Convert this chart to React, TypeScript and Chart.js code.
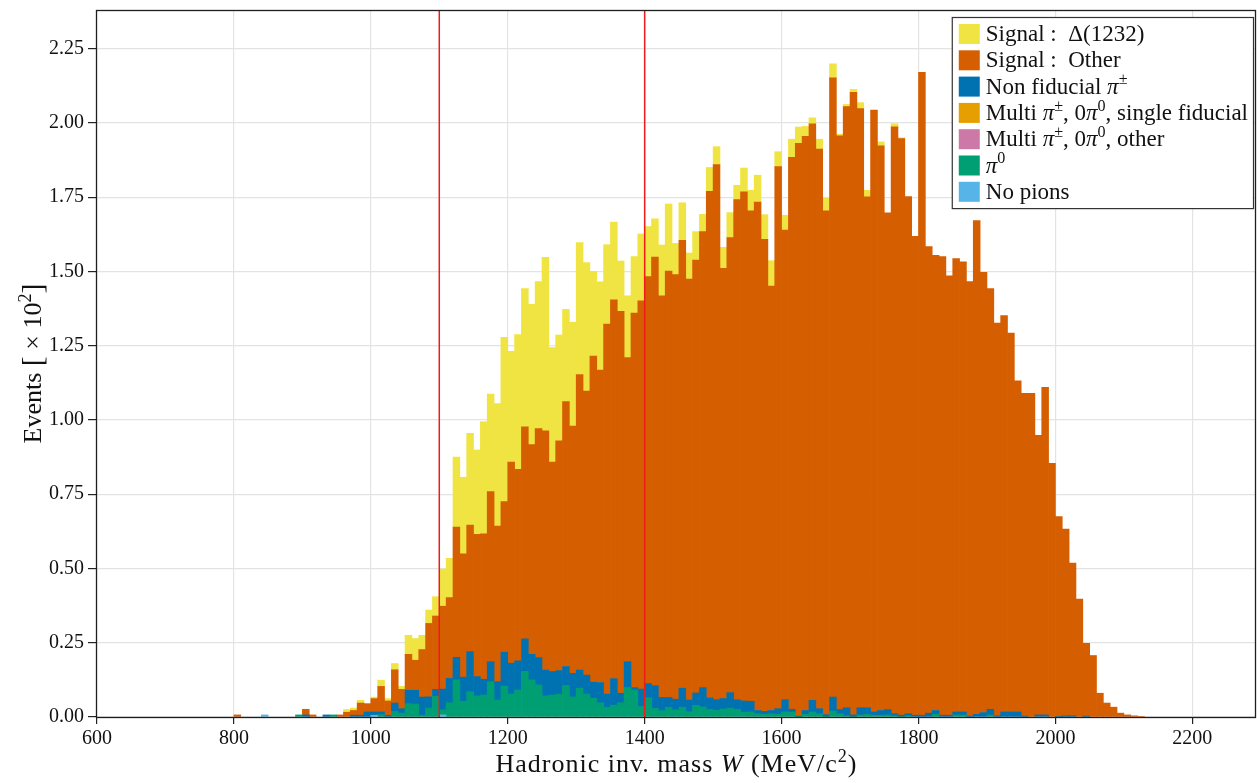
import { useEffect, useRef } from "react";
import { Chart, registerables } from "chart.js";

Chart.register(...registerables);

// Histogram binning in MeV: lower edge of the first filled bin and bin width
const FIRST_BIN = 800;
const BIN_WIDTH = 10;

// Events per 10 MeV bin, in units of 10^2; one row per 100 MeV starting at 800 MeV
const noPions = [
  0, 0, 0, 0, 0.007, 0, 0, 0, 0, 0,
  0, 0, 0, 0, 0, 0, 0, 0, 0, 0,
  0.006, 0, 0, 0, 0, 0, 0, 0, 0, 0,
  0.007, 0, 0, 0, 0, 0, 0, 0, 0, 0,
  0, 0, 0, 0, 0, 0, 0, 0, 0, 0,
  0, 0, 0, 0, 0, 0, 0, 0, 0, 0,
  0, 0, 0, 0, 0, 0, 0, 0, 0, 0,
  0, 0, 0, 0, 0, 0, 0, 0, 0, 0,
  0, 0, 0, 0, 0, 0, 0, 0, 0, 0,
  0, 0, 0, 0, 0, 0, 0, 0, 0, 0,
  0, 0, 0, 0, 0, 0, 0, 0, 0, 0,
  0, 0, 0, 0, 0, 0, 0, 0, 0, 0,
  0, 0, 0, 0, 0, 0, 0, 0, 0, 0,
  0, 0, 0,
];

const pi0 = [
  0, 0, 0, 0, 0, 0, 0, 0, 0, 0.007,
  0, 0, 0, 0, 0.007, 0, 0, 0, 0, 0,
  0, 0.008, 0, 0.019, 0.013, 0.045, 0.043, 0.006, 0.03, 0.07,
  0.017, 0.048, 0.125, 0.052, 0.085, 0.071, 0.074, 0.119, 0.057, 0.104,
  0.077, 0.091, 0.153, 0.125, 0.108, 0.071, 0.074, 0.077, 0.106, 0.068,
  0.097, 0.077, 0.063, 0.048, 0.033, 0.04, 0.048, 0.099, 0.091, 0.035,
  0.065, 0.029, 0.021, 0.033, 0.024, 0.033, 0.018, 0.039, 0.034, 0.025,
  0.022, 0.027, 0.03, 0.025, 0.016, 0.017, 0.011, 0.009, 0.011, 0.009,
  0.017, 0.016, 0.001, 0.009, 0.017, 0.011, 0.002, 0.02, 0.011, 0.004,
  0.002, 0.007, 0.009, 0.006, 0.006, 0.007, 0.004, 0.002, 0.004, 0,
  0, 0, 0.009, 0, 0, 0.007, 0.007, 0, 0, 0,
  0.007, 0, 0, 0, 0, 0, 0, 0, 0, 0,
  0, 0, 0, 0, 0, 0, 0, 0, 0, 0,
  0, 0, 0,
];

const multiOther: number[] = [];
const multiSingleFiducial: number[] = [];

const nonFiducial = [
  0, 0, 0, 0, 0, 0, 0, 0, 0, 0,
  0.007, 0, 0, 0.007, 0, 0, 0, 0.006, 0.006, 0.017,
  0.011, 0.009, 0.006, 0.028, 0.015, 0.045, 0.047, 0.061, 0.038, 0.023,
  0.07, 0.082, 0.076, 0.082, 0.135, 0.065, 0.053, 0.067, 0.062, 0.114,
  0.104, 0.098, 0.11, 0.086, 0.092, 0.087, 0.079, 0.079, 0.064, 0.079,
  0.061, 0.064, 0.054, 0.068, 0.044, 0.089, 0.032, 0.087, 0.008, 0.059,
  0.048, 0.077, 0.045, 0.033, 0.036, 0.064, 0.039, 0.042, 0.065, 0.039,
  0.036, 0.035, 0.052, 0.033, 0.038, 0.036, 0.011, 0.01, 0.011, 0.019,
  0.041, 0.01, 0.002, 0.013, 0.039, 0.017, 0.006, 0.047, 0.014, 0.027,
  0.005, 0.024, 0.022, 0.011, 0.016, 0.018, 0.007, 0.004, 0.007, 0.006,
  0.006, 0.013, 0.013, 0.006, 0.006, 0.01, 0.01, 0.003, 0.009, 0.015,
  0.019, 0.004, 0.017, 0.017, 0.017, 0.003, 0, 0.007, 0.007, 0,
  0.002, 0.004, 0.004, 0, 0.003, 0, 0, 0, 0, 0,
  0, 0, 0,
];

const signalOther = [
  0.007, 0, 0, 0, 0, 0, 0, 0, 0, 0,
  0.019, 0.007, 0, 0, 0, 0.007, 0.016, 0.016, 0.041, 0.028,
  0.045, 0.086, 0.048, 0.112, 0.065, 0.121, 0.101, 0.16, 0.247, 0.247,
  0.279, 0.272, 0.438, 0.415, 0.426, 0.479, 0.49, 0.573, 0.524, 0.507,
  0.677, 0.645, 0.714, 0.706, 0.771, 0.805, 0.705, 0.774, 0.892, 0.832,
  0.995, 0.956, 1.098, 1.052, 1.246, 1.275, 1.286, 1.024, 1.261, 1.307,
  1.37, 1.442, 1.352, 1.435, 1.429, 1.508, 1.417, 1.457, 1.535, 1.706,
  1.802, 1.448, 1.532, 1.684, 1.714, 1.651, 1.711, 1.589, 1.429, 1.825,
  1.581, 1.858, 1.928, 1.933, 1.941, 1.884, 1.696, 2.085, 1.931, 2.024,
  2.096, 2.017, 1.72, 2.026, 1.901, 1.672, 1.976, 1.941, 1.741, 1.612,
  2.164, 1.571, 1.532, 1.544, 1.479, 1.526, 1.515, 1.463, 1.662, 1.482,
  1.416, 1.322, 1.334, 1.275, 1.115, 1.087, 1.09, 0.941, 1.103, 0.854,
  0.673, 0.629, 0.514, 0.397, 0.245, 0.207, 0.08, 0.047, 0.033, 0.013,
  0.007, 0.004, 0.002,
];

const signalDelta = [
  0, 0, 0, 0, 0, 0, 0, 0, 0, 0,
  0, 0, 0, 0, 0, 0, 0.009, 0.008, 0.009, 0,
  0.005, 0.021, 0.008, 0.021, 0.01, 0.064, 0.073, 0.048, 0.045, 0.065,
  0.125, 0.132, 0.236, 0.258, 0.309, 0.284, 0.377, 0.328, 0.412, 0.553,
  0.373, 0.453, 0.465, 0.472, 0.495, 0.584, 0.386, 0.356, 0.31, 0.35,
  0.444, 0.433, 0.285, 0.297, 0.267, 0.262, 0.169, 0.208, 0.19, 0.225,
  0.168, 0.129, 0.171, 0.226, 0.105, 0.126, 0.088, 0.096, 0.058, 0.08,
  0.06, 0.071, 0.084, 0.048, 0.08, 0.069, 0.091, 0.083, 0.085, 0.05,
  0.05, 0.061, 0.055, 0.033, 0.02, 0.033, 0.043, 0.047, 0.006, 0.007,
  0.01, 0.02, 0.022, 0, 0.013, 0, 0.01, 0.003, 0, 0,
  0, 0, 0, 0, 0, 0, 0, 0, 0, 0,
  0, 0, 0, 0, 0, 0, 0, 0, 0, 0,
  0, 0, 0, 0, 0, 0, 0, 0, 0, 0,
  0, 0, 0,
];

// Selection window edges on W (MeV)
const cutLines = [1100, 1400];

// Axis ranges and tick spacing
const X_MIN = 600;
const X_MAX = 2293;
const X_STEP = 200;
const Y_MAX = 2.38;
const Y_STEP = 0.25;

const FONT = '"Liberation Serif", "Times New Roman", serif';
const GRID = "#e3e3e3";

const COLORS = {
  noPions: "#56B4E9",
  pi0: "#009E73",
  multiOther: "#CC79A7",
  multiSingle: "#E69F00",
  nonFiducial: "#0072B2",
  signalOther: "#D55E00",
  signalDelta: "#F0E442",
};

// Stack order: first entry sits at the bottom of each bar
const series = [
  { label: "No pions", values: noPions, color: COLORS.noPions },
  { label: "π0", values: pi0, color: COLORS.pi0 },
  { label: "Multi π±, 0π0, other", values: multiOther, color: COLORS.multiOther },
  { label: "Multi π±, 0π0, single fiducial", values: multiSingleFiducial, color: COLORS.multiSingle },
  { label: "Non fiducial π±", values: nonFiducial, color: COLORS.nonFiducial },
  { label: "Signal: Other", values: signalOther, color: COLORS.signalOther },
  { label: "Signal: Δ(1232)", values: signalDelta, color: COLORS.signalDelta },
];

type Part = { t: string; it?: boolean; sup?: boolean; k?: number };

const PI: Part = { t: "π", it: true };
const legendRows: { color: string; parts: Part[] }[] = [
  { color: COLORS.signalDelta, parts: [{ t: "Signal :  Δ(1232)" }] },
  { color: COLORS.signalOther, parts: [{ t: "Signal :  Other" }] },
  { color: COLORS.nonFiducial, parts: [{ t: "Non fiducial " }, PI, { t: "±", sup: true }] },
  {
    color: COLORS.multiSingle,
    parts: [{ t: "Multi " }, PI, { t: "±", sup: true }, { t: ", 0" }, PI, { t: "0", sup: true }, { t: ", single fiducial" }],
  },
  {
    color: COLORS.multiOther,
    parts: [{ t: "Multi " }, PI, { t: "±", sup: true }, { t: ", 0" }, PI, { t: "0", sup: true }, { t: ", other" }],
  },
  { color: COLORS.pi0, parts: [PI, { t: "0", sup: true }] },
  { color: COLORS.noPions, parts: [{ t: "No pions" }] },
];

const xTitle: Part[] = [{ t: "Hadronic inv. mass " }, { t: "W", it: true }, { t: " (MeV/c" }, { t: "2", sup: true }, { t: ")" }];
const yTitle: Part[] = [{ t: "Events " }, { t: "[", k: 1.15 }, { t: " × 10" }, { t: "2", sup: true }, { t: "]", k: 1.15 }];

const binCentres = signalOther.map((_, i) => FIRST_BIN + BIN_WIDTH * (i + 0.5));
const toPoints = (vals: number[]) =>
  vals.map((v, i) => ({ x: binCentres[i], y: v })).filter((p) => p.y > 0);

function partFont(p: Part, size: number) {
  const s = (p.sup ? size * 0.7 : size) * (p.k ?? 1);
  return `${p.it ? "italic " : ""}${s}px ${FONT}`;
}

function richWidth(ctx: CanvasRenderingContext2D, parts: Part[], size: number) {
  let w = 0;
  for (const p of parts) {
    ctx.font = partFont(p, size);
    w += ctx.measureText(p.t).width;
  }
  return w;
}

// Draws mixed italic / superscript text with its baseline at y
function drawRich(ctx: CanvasRenderingContext2D, parts: Part[], x: number, y: number, size: number) {
  let cx = x;
  ctx.textBaseline = "alphabetic";
  ctx.textAlign = "left";
  for (const p of parts) {
    ctx.font = partFont(p, size);
    ctx.fillText(p.t, cx, p.sup ? y - size * 0.4 : y + (p.k ? size * 0.02 : 0));
    cx += ctx.measureText(p.t).width;
  }
}

const decor = {
  id: "decor",
  afterDatasetsDraw(chart: any) {
    const { ctx, chartArea: a, scales } = chart;
    const xs = scales.x;
    ctx.save();

    // selection window markers
    ctx.strokeStyle = "#f01a1a";
    ctx.lineWidth = 1.5;
    for (const m of cutLines) {
      const px = xs.getPixelForValue(m);
      ctx.beginPath();
      ctx.moveTo(px, a.top);
      ctx.lineTo(px, a.bottom);
      ctx.stroke();
    }

    // plot frame
    ctx.strokeStyle = "#1e1e1e";
    ctx.lineWidth = 1.3;
    ctx.strokeRect(a.left - 0.5, a.top + 0.5, a.right - a.left, a.bottom - a.top);

    // legend
    const size = 23;
    const rowH = 26.3;
    let maxW = 0;
    for (const r of legendRows) maxW = Math.max(maxW, richWidth(ctx, r.parts, size));
    const boxW = 7 + 21 + 6 + maxW + 5;
    const boxH = 7 + rowH * legendRows.length;
    const bx = a.right - 3 - boxW;
    const by = a.top + 7;
    ctx.fillStyle = "#ffffff";
    ctx.fillRect(bx, by, boxW, boxH);
    ctx.strokeStyle = "#333333";
    ctx.lineWidth = 1.2;
    ctx.strokeRect(bx + 0.5, by + 0.5, boxW, boxH);
    legendRows.forEach((r, i) => {
      const sy = by + 7 + i * rowH;
      ctx.fillStyle = r.color;
      ctx.fillRect(bx + 7, sy, 21, 20);
      ctx.fillStyle = "#111111";
      drawRich(ctx, r.parts, bx + 34, sy + 17, size);
    });
    ctx.restore();
  },
  afterDraw(chart: any) {
    const { ctx, chartArea: a } = chart;
    ctx.save();
    ctx.fillStyle = "#111111";
    const ts = 26;
    (ctx as any).letterSpacing = "1px";
    const w = richWidth(ctx, xTitle, ts);
    drawRich(ctx, xTitle, (a.left + a.right) / 2 - w / 2, 772, ts);
    (ctx as any).letterSpacing = "0px";

    const wy = richWidth(ctx, yTitle, ts);
    ctx.translate(41, (a.top + a.bottom) / 2);
    ctx.rotate(-Math.PI / 2);
    drawRich(ctx, yTitle, -wy / 2, 0, ts);
    ctx.restore();
  },
};

export default function App() {
  const ref = useRef<HTMLCanvasElement>(null);

  useEffect(() => {
    const canvas = ref.current;
    if (!canvas) return;
    const chart = new Chart(canvas, {
      type: "bar",
      data: {
        datasets: series.map((s) => ({
          label: s.label,
          data: toPoints(s.values),
          backgroundColor: s.color,
          borderWidth: 0,
          barPercentage: 1,
          categoryPercentage: 1,
        })),
      },
      options: {
        responsive: false,
        animation: false,
        devicePixelRatio: 1,
        layout: { padding: { top: 10, right: 1, left: 0, bottom: 0 } },
        plugins: { legend: { display: false }, tooltip: { enabled: false } },
        scales: {
          x: {
            type: "linear",
            stacked: true,
            min: X_MIN,
            max: X_MAX,
            offset: false,
            grid: { color: GRID, lineWidth: 1.2, offset: false, tickColor: "#222", tickLength: 7 },
            border: { display: false },
            ticks: {
              stepSize: X_STEP,
              includeBounds: false,
              autoSkip: false,
              maxRotation: 0,
              padding: 3,
              color: "#111",
              font: { family: FONT, size: 20 },
              callback: (v: any) => String(v),
            },
            afterFit: (s: any) => {
              s.height = 66;
              s.paddingLeft = 0;
              s.paddingRight = 0;
            },
          },
          y: {
            type: "linear",
            stacked: true,
            min: 0,
            max: Y_MAX,
            grid: { color: GRID, lineWidth: 1.2, tickColor: "#222", tickLength: 9 },
            border: { display: false },
            ticks: {
              stepSize: Y_STEP,
              includeBounds: false,
              padding: 4,
              color: "#111",
              font: { family: FONT, size: 20 },
              callback: (v: any) => Number(v).toFixed(2),
            },
            afterFit: (s: any) => {
              s.width = 97;
              s.paddingTop = 0;
              s.paddingBottom = 0;
            },
          },
        },
      } as any,
      plugins: [decor],
    });
    return () => chart.destroy();
  }, []);

  return (
    <div style={{ position: "absolute", left: 0, top: 0, width: 1257, height: 783, background: "#fff" }}>
      <canvas ref={ref} width={1257} height={783} style={{ display: "block" }} />
    </div>
  );
}
